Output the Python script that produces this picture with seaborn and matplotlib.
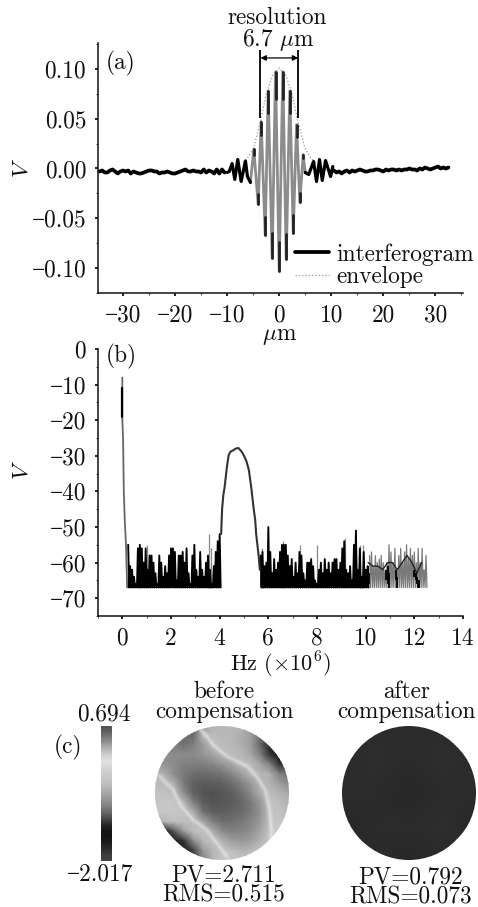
import numpy as np
import matplotlib
matplotlib.use('Agg')
import matplotlib.pyplot as plt
import seaborn as sns
from matplotlib.patches import Circle
from matplotlib.ticker import AutoMinorLocator

# ================================
# Data
# ================================

# panel (a) baseline, one value every 0.5 um
base_left_x = np.arange(-34.5, -10.0, 0.5)
base_left = [-.003, -.002, -.004, -.004, -.002, -.001, -.003, -.005, -.003, -.002,
             -.003, -.002, -.005, -.003, -.004, -.005, -.005, -.004, -.003, -.002,
             -.002, -.003, -.003, -.005, -.004, -.004, -.003, -.004, -.005, -.005,
             -.004, -.003, -.002, -.001, -.003, -.003, -.002, -.003, -.003, -.004,
             -.001, -.004, -.002, -.003, -.005, -.001, -.005, -.001, -.004]
base_right_x = np.arange(10.5, 33.0, 0.5)
base_right = [-.002, -.004, -.003, -.005, -.003, -.002, -.004, -.002, -.003, -.002,
              -.001, -.002, -.003, -.003, -.002, -.002, -.001, -.001, -.002, -.003,
              -.001, -.002, -.001, -.001, -.002, -.001, -.002, -.001, -.001, .000,
              -.001, -.001, -.002, .000, -.001, .001, .000, -.001, .000, .001,
              .002, .000, .001, .000, .001]

wiggle_left_x = [-10.0, -9.6, -9.04, -8.53, -7.96, -7.31, -6.48, -6.1, -5.52]
wiggle_left = [-.004, -.003, .005, -.011, .009, -.013, .0075, -.008, -.014]
wiggle_right_x = [5.0, 5.67, 6.6, 7.17, 7.75, 8.27, 8.9, 9.87, 10.3]
wiggle_right = [-.004, -.006, .007, -.013, .009, -.012, .008, -.008, .002]

fringe_x = [-5.52, -4.88, -4.04, -3.46, -2.69, -2.12, -1.35, -.71, 0, .69, 1.35, 2.04, 2.69, 3.33, 3.96, 4.6, 5.0]
fringe = [-.014, .0195, -.036, .047, -.067, .078, -.09, .097, -.103, .097, -.091, .078, -.065, .044, -.034, .014, -.004]

envelope_x = [-7.0, -6.0, -4.9, -3.6, -2.4, -1.2, 0, 1.2, 2.4, 3.6, 4.9, 6.0, 7.0]
envelope = [.006, .011, .021, .047, .077, .094, .101, .094, .077, .047, .021, .011, .006]

res_x = [-3.6, 3.65]

# panel (b)
spike_x = [0.0, 0.0, 0.03, 0.06, 0.1, 0.15, 0.2]
spike = [-8, -20, -25, -40, -48, -55, -67]
black_x = [0.0, 0.0]
black_y = [-11, -19]
tops_1 = [-55, -61, -62, -64, -66, -56, -55, -56, -60, -56, -62, -58, -58, -60, -63, -66,
          -58, -60, -64, -61, -63, -58, -56, -56, -57, -65, -58, -58, -57, -60, -56, -63,
          -66, -58, -55, -62, -64, -57, -62, -64, -60, -58, -62, -66, -61, -57, -54, -52]
peak_x = [4.06, 4.1, 4.15, 4.2, 4.25, 4.3, 4.37, 4.45, 4.55, 4.65, 4.77, 4.9, 5.0, 5.1, 5.2, 5.3, 5.4, 5.46, 5.5, 5.6, 5.65]
peak = [-52, -45, -41, -39, -36, -33, -29.8, -28.8, -28.5, -28.0, -27.8, -28.8, -30, -31.5, -34, -39, -45, -48, -52, -58, -62]
tops_2 = [-58, -57, -61, -60, -50, -57, -63, -59, -62, -60, -57, -55, -55, -55, -58, -61,
          -59, -64, -60, -63, -57, -58, -63, -65, -60, -60, -59, -61, -65, -66, -62, -60,
          -63, -59, -62, -60, -63, -60, -59, -59, -62, -60, -56, -54, -62, -63, -61, -65,
          -55, -51, -62, -56, -64, -57, -62, -61]
tops_3 = [-58, -57, -61, -58, -60, -59, -58, -60, -62, -60, -55, -57, -60, -56, -62, -58,
          -56, -60, -57, -55, -59, -56, -58, -57, -60, -56, -60, -56, -62, -58]
wave_x = [10.1, 10.3, 10.5, 10.7, 10.9, 11.1, 11.3, 11.5, 11.7, 11.9, 12.1, 12.3]
wave = [-60, -61, -61, -62, -60, -60, -62, -60, -58, -60, -63, -60]
blob_x = [10.05, 10.1, 10.15, 10.85, 10.9, 10.95, 11.25, 11.3, 12.0, 12.05, 12.1, 12.15, 12.2]
blob_top = [-62, -61, -63, -62, -61, -63, -62, -64, -62, -63, -64, -65, -65]
blob_bottom = [-66, -67, -66, -65, -66, -67, -65, -67, -64, -65, -66, -67, -67]
pale_x = [0.7, 1.0, 3.56, 3.64, 5.75, 6.6, 7.3, 8.0, 9.15, 9.75, 9.9]
pale = [-55, -55, -52, -56, -56, -54, -55, -55, -53, -55, -55]

# panel (c), grey levels: 0 black, 1 white
bar_levels = [.32, .38, .48, .6, .72, .82, .88, .84, .8, .78, .74, .68, .62, .55, .48,
              .38, .26, .14, .08, .08, .12, .18, .24, .27]
before = [
    [.40, .40, .40, .40, .40, .60, .70, .72, .72, .70, .62, .50, .40, .40, .40],
    [.45, .45, .45, .42, .42, .72, .74, .72, .72, .68, .62, .45, .30, .25, .25],
    [.50, .50, .50, .45, .50, .60, .74, .74, .72, .68, .62, .40, .15, .10, .10],
    [.55, .55, .55, .55, .55, .58, .64, .72, .74, .72, .65, .50, .20, .10, .15],
    [.60, .58, .55, .50, .50, .50, .52, .58, .66, .74, .74, .65, .50, .20, .25],
    [.72, .68, .55, .47, .43, .42, .43, .46, .52, .62, .72, .72, .68, .50, .45],
    [.74, .72, .68, .48, .38, .36, .36, .38, .43, .50, .60, .72, .70, .62, .55],
    [.76, .76, .74, .56, .38, .33, .32, .34, .37, .44, .54, .68, .74, .70, .65],
    [.78, .78, .78, .72, .50, .37, .33, .34, .36, .40, .48, .60, .76, .74, .70],
    [.78, .78, .78, .76, .68, .45, .38, .37, .39, .42, .48, .58, .76, .76, .72],
    [.70, .72, .75, .76, .74, .66, .50, .43, .44, .47, .53, .60, .76, .78, .75],
    [.20, .10, .35, .62, .75, .76, .68, .55, .50, .52, .56, .65, .78, .80, .80],
    [.10, .10, .10, .20, .55, .72, .76, .70, .62, .60, .62, .70, .78, .82, .80],
    [.10, .10, .10, .12, .25, .60, .72, .76, .74, .70, .72, .76, .80, .82, .80],
    [.10, .10, .10, .15, .30, .50, .70, .78, .78, .78, .78, .80, .82, .85, .80],
]
# the two bright creases, in cells of the grid above
ridge1_x = [4.7, 5.4, 6.1, 7.5, 9.6, 10.6, 11.5, 11.9, 12.2, 12.0]
ridge1_y = [0.35, 1.05, 2.0, 3.15, 4.2, 5.25, 6.65, 8.4, 10.85, 13.0]
ridge2_x = [0.5, 1.9, 2.75, 4.0, 5.4, 6.6, 7.5]
ridge2_y = [5.25, 6.65, 8.4, 9.8, 10.85, 12.4, 13.6]
after = [
    [.17, .17, .17, .17, .17],
    [.17, .18, .17, .18, .17],
    [.17, .17, .16, .17, .17],
    [.16, .17, .17, .18, .16],
    [.17, .17, .16, .17, .17],
]

ytick_a = [-0.10, -0.05, 0.00, 0.05, 0.10]
xtick_a = [-30, -20, -10, 0, 10, 20, 30]
ytick_b = [0, -10, -20, -30, -40, -50, -60, -70]
xtick_b = [0, 2, 4, 6, 8, 10, 12, 14]

# ================================
# Style
# ================================
FS = 16.8
sns.set_theme(style='ticks')
plt.rcParams['font.family'] = ['cmr10', 'Liberation Serif']
plt.rcParams['mathtext.fontset'] = 'cm'
plt.rcParams['font.size'] = FS
W, H = 478, 907
fig = plt.figure(figsize=(W / 100, H / 100), dpi=100, facecolor='white')


def px_axes(left, top, right, bottom):
    return fig.add_axes([left / W, 1 - bottom / H, (right - left) / W, (bottom - top) / H])


def fig_text(x, y, s, **kw):
    fig.text(x / W, 1 - y / H, s, ha=kw.pop('ha', 'center'), va='center', color='#111111',
             fontsize=kw.pop('fontsize', FS), **kw)


def style_axis(ax, xticks, yticks, yfmt):
    ax.set_xticks(xticks)
    ax.set_yticks(yticks)
    ax.set_xticklabels([str(t).replace('-', '\u2212') for t in xticks])
    ax.set_yticklabels([yfmt.format(t).replace('-', '\u2212') for t in yticks])
    ax.xaxis.set_minor_locator(AutoMinorLocator(2))
    ax.yaxis.set_minor_locator(AutoMinorLocator(2))
    ax.tick_params(which='major', length=2.5, width=1.3, labelsize=FS, pad=6, colors='#111111')
    ax.tick_params(which='minor', length=1.5, width=0.8, colors='#555555')
    sns.despine(ax=ax)
    for s in ['left', 'bottom']:
        ax.spines[s].set_linewidth(1.1)
        ax.spines[s].set_color('#111111')


# ================================
# (a) interferogram
# ================================
ax = px_axes(98, 43, 463, 293)
line_kw = dict(ax=ax, sort=False, estimator=None)
sns.lineplot(x=envelope_x, y=envelope, color='#999999', lw=0.9, ls=':', label='envelope', **line_kw)
sns.lineplot(x=fringe_x, y=fringe, color='#8c8c8c', lw=2.0, **line_kw)
# the black tips of the central fringes
for i in range(1, len(fringe) - 1):
    ax.plot([fringe_x[i], fringe_x[i]], [fringe[i], fringe[i] * 0.72], color='#222222', lw=2.0,
            solid_capstyle='round')
sns.lineplot(x=base_left_x, y=base_left, color='black', lw=2.7, label='interferogram', **line_kw)
sns.lineplot(x=base_right_x, y=base_right, color='black', lw=2.7, **line_kw)
sns.lineplot(x=wiggle_left_x, y=wiggle_left, color='black', lw=2.3, **line_kw)
sns.lineplot(x=wiggle_right_x, y=wiggle_right, color='black', lw=2.3, **line_kw)
ax.vlines(res_x, 0.0506, 0.1185, color='black', lw=1.3)
ax.annotate('', xy=(res_x[0], 0.111), xytext=(res_x[1], 0.111),
            arrowprops=dict(arrowstyle='<|-|>', color='black', lw=0.9, shrinkA=0, shrinkB=0, mutation_scale=8))
ax.set_xlim(-34.8, 35.3)
ax.set_ylim(-0.125, 0.126)
style_axis(ax, xtick_a, ytick_a, '{:.2f}')
handles, labels = ax.get_legend_handles_labels()
ax.legend(handles[::-1], labels[::-1], loc='upper left', bbox_to_anchor=(0.54, 0.2), frameon=False, fontsize=FS,
          handlelength=1.45, handletextpad=0.3, labelspacing=0.02, borderpad=0, borderaxespad=0, labelcolor='#111111')

# ================================
# (b) spectrum
# ================================
ax = px_axes(98, 349, 463, 616)
line_kw = dict(ax=ax, sort=False, estimator=None)
x1 = np.arange(len(tops_1)) * 0.08 + 0.24
x2 = np.arange(len(tops_2)) * 0.08 + 5.68
x3 = np.arange(len(tops_3)) * 0.08 + 10.16
ax.vlines(pale_x, -67, pale, color='#888888', lw=0.9)
zig1_x = np.ravel(np.column_stack([x1, x1 + 0.04]))
zig1 = np.ravel(np.column_stack([tops_1, [-67] * len(tops_1)]))
zig2_x = np.ravel(np.column_stack([x2, x2 + 0.04]))
zig2 = np.ravel(np.column_stack([tops_2, [-67] * len(tops_2)]))
zig3_x = np.ravel(np.column_stack([x3, x3 + 0.04]))
zig3 = np.ravel(np.column_stack([tops_3, [-67] * len(tops_3)]))
sns.lineplot(x=zig3_x, y=zig3, color='#7a7a7a', lw=0.9, **line_kw)
sns.lineplot(x=wave_x, y=wave, color='#222222', lw=1.0, **line_kw)
ax.vlines(blob_x, blob_bottom, blob_top, color='black', lw=1.3)
sns.lineplot(x=zig1_x, y=zig1, color='black', lw=1.35, **line_kw)
sns.lineplot(x=zig2_x, y=zig2, color='black', lw=1.35, **line_kw)
sns.lineplot(x=spike_x, y=spike, color='#666666', lw=1.3, **line_kw)
sns.lineplot(x=black_x, y=black_y, color='black', lw=1.6, **line_kw)
sns.lineplot(x=peak_x, y=peak, color='#333333', lw=1.5, **line_kw)
ax.set_xlim(-1, 14)
ax.set_ylim(-75, 0)
style_axis(ax, xtick_b, ytick_b, '{:d}')

# ================================
# (c) phase maps
# ================================
cax = px_axes(101, 726, 112, 861)
sns.heatmap(np.column_stack([bar_levels, bar_levels]), ax=cax, cmap='gray', vmin=0, vmax=1, cbar=False,
            xticklabels=False, yticklabels=False, shading='gouraud')
cax.set_xlim(0, 1)
cax.set_ylim(len(bar_levels) - 1, 0)
cax.set_axis_off()

for grid, cx in [(before, 222), (after, 408.7)]:
    m = px_axes(cx - 67, 726, cx + 67, 860)
    sns.heatmap(grid, ax=m, cmap='gray', vmin=0, vmax=1, cbar=False, xticklabels=False, yticklabels=False,
                shading='gouraud')
    n = len(grid) - 1
    clip = Circle((n / 2, n / 2), n / 2, transform=m.transData)
    m.collections[0].set_clip_path(clip)
    if grid is before:
        for rx, ry in [(ridge1_x, ridge1_y), (ridge2_x, ridge2_y)]:
            for lw, alpha in [(5, 0.1), (3, 0.15), (1.5, 0.25)]:
                sns.lineplot(x=rx, y=ry, ax=m, sort=False, estimator=None, color='white', lw=lw, alpha=alpha)
                m.lines[-1].set_clip_path(clip)
    m.set_xlim(0, n)
    m.set_ylim(n, 0)
    m.set_axis_off()

# ================================
# Loose text
# ================================
fig_text(277, 18, 'resolution')
fig_text(278, 40, r'6.7 $\mu$m')
fig_text(121, 63, '(a)')
fig_text(121, 356, '(b)')
fig_text(68, 747, '(c)')
fig_text(21, 168, r'$V$', rotation=90)
fig_text(21, 470, r'$V$', rotation=90)
fig_text(280, 336, r'$\mu$m')
fig_text(280, 665, r'Hz ($\times 10^6$)', fontsize=16)
fig_text(224, 692, 'before')
fig_text(224, 712, 'compensation')
fig_text(407, 692, 'after')
fig_text(407, 712, 'compensation')
fig_text(104, 714, '0.694')
fig_text(100, 874, '\u22122.017')
fig_text(224, 875, 'PV=2.711')
fig_text(224, 895, 'RMS=0.515')
fig_text(411, 877, 'PV=0.792')
fig_text(411, 897, 'RMS=0.073')

fig.savefig('out.png', dpi=100)
